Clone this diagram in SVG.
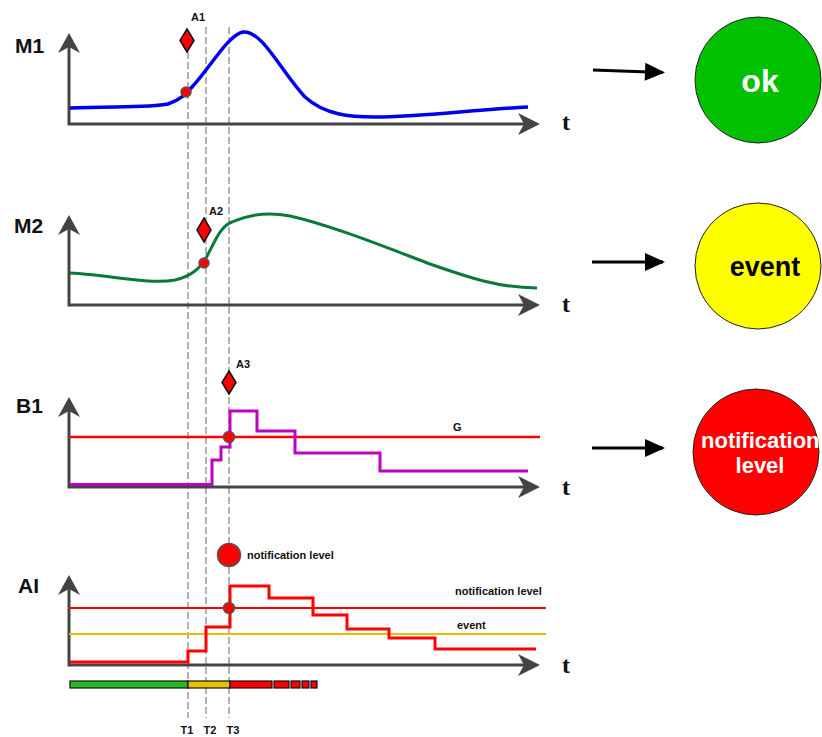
<svg xmlns="http://www.w3.org/2000/svg" width="822" height="737" viewBox="0 0 822 737">
<defs>
<style>
.ax{fill:none;stroke:#444;stroke-width:3}
.ah{fill:#444}
.lbl{font-family:"Liberation Sans",Arial,sans-serif;font-weight:bold;font-size:21px;fill:#111}
.t{font-family:"Liberation Serif","Times New Roman",serif;font-weight:bold;font-size:24px;fill:#111}
.sm{font-family:"Liberation Sans",Arial,sans-serif;font-weight:bold;font-size:11px;fill:#111}
.dash{stroke:#999;stroke-width:1.5;stroke-dasharray:7,3;fill:none}
.dia{fill:#f00;stroke:#111;stroke-width:1.5}
.dot{fill:#f00;stroke:#555;stroke-width:1.5}
.conn{stroke:#000;stroke-width:3;fill:none}
.bar{stroke:#111;stroke-width:1.2}
.big{font-family:"Liberation Sans",Arial,sans-serif;font-weight:bold}
</style>
<marker id="arr" viewBox="0 0 20 18" refX="18" refY="9" markerWidth="20" markerHeight="18" markerUnits="userSpaceOnUse" orient="auto" overflow="visible">
<path d="M0,0 L20,9 L0,18 Z" fill="#000"/>
</marker>
</defs>

<!-- dashed time lines -->
<g id="timelines">
<line class="dash" x1="188" y1="52" x2="188" y2="718"/>
<line class="dash" x1="206" y1="27" x2="206" y2="718"/>
<line class="dash" x1="229" y1="27" x2="229" y2="718"/>
</g>

<!-- M1 panel -->
<g id="M1">
<path class="ax" d="M69,40 V124 H534"/>
<path class="ah" d="M58,53 L69,33 L80,53 L69,47 Z"/>
<path class="ah" d="M518,113 L540,124 L518,135 L524,124 Z"/>
<text class="lbl" x="15" y="53">M1</text>
<text class="t" x="562" y="130">t</text>
<path d="M70,108 C110,106 150,108 168,104 C180,100 186,94 192,87 C210,68 228,35 243,32 C262,30 280,70 305,97 C325,115 350,117 375,117 C420,117 470,110 528,107" fill="none" stroke="#0000ee" stroke-width="3.5"/>
<path class="dia" d="M187,29 L194,40.5 L187,52 L180,40.5 Z"/>
<circle class="dot" cx="186" cy="92" r="5"/>
<text class="sm" x="191" y="21">A1</text>
</g>

<!-- M2 panel -->
<g id="M2">
<path class="ax" d="M69,222 V305 H534"/>
<path class="ah" d="M58,235 L69,215 L80,235 L69,229 Z"/>
<path class="ah" d="M518,294 L540,305 L518,316 L524,305 Z"/>
<text class="lbl" x="14" y="233">M2</text>
<text class="t" x="562" y="312">t</text>
<path d="M70,273 C110,275 150,285 175,280 C192,276 200,268 206,258 C214,244 220,226 232,222 C250,214 270,212 290,216 C330,225 380,245 430,264 C470,278 500,288 537,288" fill="none" stroke="#0a7a3a" stroke-width="3"/>
<path class="dia" d="M204,218 L211,230 L204,242 L197,230 Z"/>
<circle class="dot" cx="204" cy="263" r="5"/>
<text class="sm" x="209" y="215">A2</text>
</g>

<!-- B1 panel -->
<g id="B1">
<path class="ax" d="M69,404 V487 H534"/>
<path class="ah" d="M58,417 L69,397 L80,417 L69,411 Z"/>
<path class="ah" d="M518,476 L540,487 L518,498 L524,487 Z"/>
<text class="lbl" x="16" y="413">B1</text>
<text class="t" x="562" y="495">t</text>
<line x1="69" y1="437" x2="540" y2="437" stroke="#f00" stroke-width="2.5"/>
<text class="sm" x="453" y="431">G</text>
<path d="M70,484.5 H212 V460 H221 V447 H230 V411 H257 V431 H295 V453 H380 V471 H528" fill="none" stroke="#c000c0" stroke-width="3"/>
<path class="dia" d="M229,371 L236,382.5 L229,394 L222,382.5 Z"/>
<circle class="dot" cx="229" cy="437" r="5.5"/>
<text class="sm" x="236" y="368">A3</text>
</g>

<!-- AI panel -->
<g id="AI">
<path class="ax" d="M69,582 V665 H534"/>
<path class="ah" d="M58,595 L69,575 L80,595 L69,589 Z"/>
<path class="ah" d="M518,654 L540,665 L518,676 L524,665 Z"/>
<text class="lbl" x="18" y="593">AI</text>
<text class="t" x="562" y="673">t</text>
<line x1="69" y1="608" x2="546" y2="608" stroke="#f00" stroke-width="2"/>
<line x1="69" y1="634" x2="546" y2="634" stroke="#e8c000" stroke-width="2"/>
<path d="M70,662 H188 V651 H206 V627 H230 V586 H269 V598 H313 V615 H347 V629 H389 V638 H435 V649 H536" fill="none" stroke="#f00" stroke-width="3"/>
<circle class="dot" cx="229" cy="608" r="5.5"/>
<circle class="dot" cx="229" cy="555" r="11.5"/>
<text class="sm" x="247" y="559">notification level</text>
<text class="sm" x="455" y="595">notification level</text>
<text class="sm" x="457" y="629">event</text>
</g>

<!-- status bar -->
<g id="statusbar">
<rect class="bar" x="70" y="681" width="118" height="7" fill="#22bb22"/>
<rect class="bar" x="188" y="681" width="42" height="7" fill="#e8c000"/>
<rect class="bar" x="230" y="681" width="42" height="7" fill="#f00"/>
<rect class="bar" x="274" y="681" width="15" height="7" fill="#f00"/>
<rect class="bar" x="291" y="681" width="9" height="7" fill="#f00"/>
<rect class="bar" x="302" y="681" width="7" height="7" fill="#f00"/>
<rect class="bar" x="311" y="681" width="6" height="7" fill="#f00"/>
<text class="sm" x="187" y="734" text-anchor="middle">T1</text>
<text class="sm" x="210" y="734" text-anchor="middle">T2</text>
<text class="sm" x="233" y="734" text-anchor="middle">T3</text>
</g>

<!-- connectors -->
<g id="connectors">
<line class="conn" x1="593" y1="70" x2="663" y2="72.5" marker-end="url(#arr)"/>
<line class="conn" x1="592" y1="262" x2="663" y2="262" marker-end="url(#arr)"/>
<line class="conn" x1="592" y1="448" x2="663" y2="448" marker-end="url(#arr)"/>
</g>

<!-- status nodes -->
<g id="ok">
<circle cx="758" cy="80" r="63" fill="#00c000" stroke="#222" stroke-width="1"/>
<text class="big" x="760" y="92" text-anchor="middle" font-size="32" fill="#fff">ok</text>
</g>
<g id="event">
<circle cx="758" cy="266" r="63" fill="#ffff00" stroke="#222" stroke-width="1"/>
<text class="big" x="765" y="276" text-anchor="middle" font-size="27" fill="#000">event</text>
</g>
<g id="notification">
<circle cx="756" cy="452" r="63" fill="#ff0000" stroke="#222" stroke-width="1"/>
<text class="big" font-size="22" fill="#fff"><tspan x="701" y="448">notification</tspan><tspan x="760" y="473" text-anchor="middle">level</tspan></text>
</g>
</svg>
